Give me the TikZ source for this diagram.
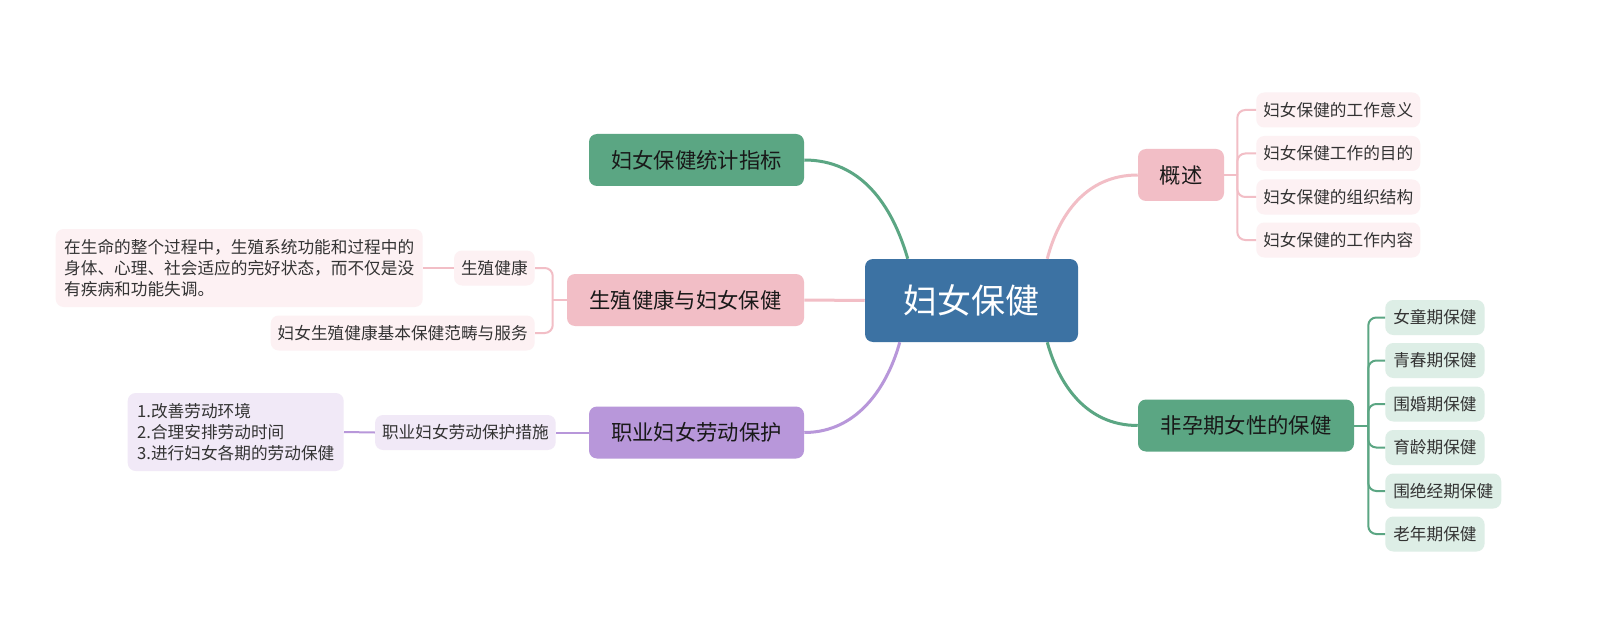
\documentclass[tikz,border=0pt]{standalone}
\usepackage{fontspec}
\setmainfont{Noto Sans CJK SC}
\usetikzlibrary{calc}
\definecolor{cblue}{HTML}{3C72A3}
\definecolor{cgreen}{HTML}{5BA683}
\definecolor{cpink}{HTML}{F2BEC6}
\definecolor{cpurple}{HTML}{B897DA}
\definecolor{lpink}{HTML}{FDF1F3}
\definecolor{lgreen}{HTML}{DDEEE6}
\definecolor{lpurple}{HTML}{F1E9F7}
\definecolor{ctext}{HTML}{333333}
\tikzset{
  rootbox/.style={fill=cblue, rounded corners=6pt, minimum width=159.75pt, minimum height=62.25pt, text=white, inner sep=0pt, font=\fontsize{25.5}{30}\selectfont},
  lone/.style={rounded corners=6pt, minimum height=39pt, inner sep=0pt, text=black!90, font=\fontsize{16}{19}\selectfont},
  ltwo/.style={rounded corners=6pt, minimum height=26.25pt, inner xsep=5.25pt, inner ysep=0pt, text=ctext, font=\fontsize{12.5}{16}\selectfont},
  lbig/.style={rounded corners=6pt, minimum height=58.5pt, inner xsep=5.25pt, inner ysep=0pt, text=ctext, align=left, font=\fontsize{12.5}{16}\selectfont},
  thick1/.style={line width=2.25pt},
  thin1/.style={line width=1.5pt, rounded corners=6pt},
}
\begin{document}
\begin{tikzpicture}[x=0.75pt,y=-0.75pt]
\useasboundingbox[fill=white] (0,0) rectangle (1599,624);
% root
\node[rootbox] (root) at (971.5,300.5) {妇女保健};
% level 1
\node[lone, fill=cgreen, minimum width=161.25pt] (tj) at (696.5,160) {妇女保健统计指标};
\node[lone, fill=cpink, minimum width=177.75pt] (sz) at (685.5,300) {生殖健康与妇女保健};
\node[lone, fill=cpurple, minimum width=161.25pt] (zy) at (696.5,432.5) {职业妇女劳动保护};
\node[lone, fill=cpink, minimum width=64.5pt] (gs) at (1181,175) {概述};
\node[lone, fill=cgreen, minimum width=162pt] (fy) at (1246,425.5) {非孕期女性的保健};
% level 2 right
\node[ltwo, fill=lpink, anchor=west] (g1) at (1256,110) {妇女保健的工作意义};
\node[ltwo, fill=lpink, anchor=west] (g2) at (1256,153.5) {妇女保健工作的目的};
\node[ltwo, fill=lpink, anchor=west] (g3) at (1256,197) {妇女保健的组织结构};
\node[ltwo, fill=lpink, anchor=west] (g4) at (1256,240) {妇女保健的工作内容};
\node[ltwo, fill=lgreen, anchor=west, inner xsep=6pt] (f1) at (1385,317.5) {女童期保健};
\node[ltwo, fill=lgreen, anchor=west, inner xsep=6pt] (f2) at (1385,360.5) {青春期保健};
\node[ltwo, fill=lgreen, anchor=west, inner xsep=6pt] (f3) at (1385,404) {围婚期保健};
\node[ltwo, fill=lgreen, anchor=west, inner xsep=6pt] (f4) at (1385,447.5) {育龄期保健};
\node[ltwo, fill=lgreen, anchor=west, inner xsep=6pt] (f5) at (1385,491) {围绝经期保健};
\node[ltwo, fill=lgreen, anchor=west, inner xsep=6pt] (f6) at (1385,534) {老年期保健};
% level 2 left
\node[ltwo, fill=lpink, anchor=east] (s1) at (535,268) {生殖健康};
\node[ltwo, fill=lpink, anchor=east] (s2) at (535,333) {妇女生殖健康基本保健范畴与服务};
\node[lbig, fill=lpink, anchor=east, minimum width=275.25pt] (s1a) at (423,268) {在生命的整个过程中，生殖系统功能和过程中的\\身体、心理、社会适应的完好状态，而不仅是没\\有疾病和功能失调。};
\node[ltwo, fill=lpurple, anchor=east] (z1) at (556,432.5) {职业妇女劳动保护措施};
\node[lbig, fill=lpurple, anchor=east, minimum width=162pt] (z1a) at (344,432) {1.改善劳动环境\\2.合理安排劳动时间\\3.进行妇女各期的劳动保健};
% coordinates
\coordinate (rtl) at ($(root.north west)+(43,0)$);
\coordinate (rtr) at ($(root.north east)+(-31,0)$);
\coordinate (rbl) at ($(root.south west)+(35,0)$);
\coordinate (rbr) at ($(root.south east)+(-31,0)$);
% level-1 connectors
\draw[thick1, cgreen] (rtl) .. controls ($(rtl)+(-16,-55)$) and ($(tj.east)+(56,0)$) .. (tj.east);
\draw[thick1, cpink] (rtr) .. controls ($(rtr)+(11,-42)$) and ($(gs.west)+(-53,0)$) .. (gs.west);
\draw[thick1, cgreen] (rbr) .. controls ($(rbr)+(11,40)$) and ($(fy.west)+(-53,0)$) .. (fy.west);
\draw[thick1, cpurple] (rbl) .. controls ($(rbl)+(-11,40)$) and ($(zy.east)+(56,0)$) .. (zy.east);
\draw[thick1, cpink] (root.west) -- (sz.east);
% brackets
\coordinate (gb) at ($(gs.east)+(13,0)$);
\draw[thin1, cpink] (gs.east) -- (gb);
\foreach \c in {g1,g2,g3,g4} \draw[thin1, cpink] (gb) |- (\c.west);
\coordinate (fb) at ($(fy.east)+(14,0)$);
\draw[thin1, cgreen] (fy.east) -- (fb);
\foreach \c in {f1,f2,f3,f4,f5,f6} \draw[thin1, cgreen] (fb) |- (\c.west);
\coordinate (sb) at ($(sz.west)+(-14,0)$);
\draw[thin1, cpink] (sz.west) -- (sb);
\foreach \c in {s1,s2} \draw[thin1, cpink] (sb) |- (\c.east);
\draw[thin1, cpink] (s1.west) -- (s1a.east);
\draw[thin1, cpurple] (zy.west) -- (z1.east);
\draw[thin1, cpurple] (z1.west) -- (z1a.east);
\end{tikzpicture}
\end{document}
